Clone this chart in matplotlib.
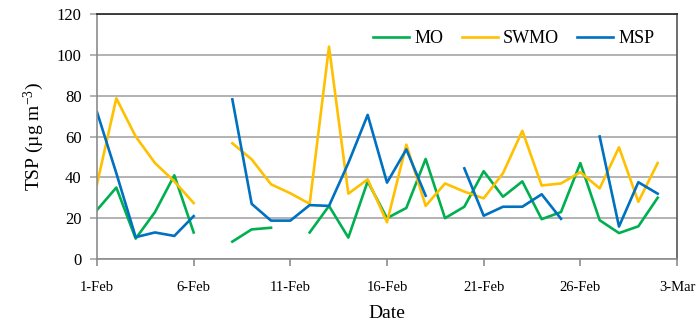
import numpy as np
import pandas as pd
import matplotlib
matplotlib.use("Agg")
import matplotlib.pyplot as plt
import matplotlib.dates as mdates

nan = np.nan

# daily TSP concentrations, 1 Feb to 2 Mar (gaps = no sample)
dates = pd.date_range("2014-02-01", "2014-03-02", freq="D")
mo = [24, 35, 10, 23, 41, 13, nan, 8.5, 14.5, 15.3, nan, 13, 26, 10.5, 38,
      20, 25, 49, 20, 25.6, 43, 30.5, 38, 19.5, 23, 47, 19, 12.7, 16, 30]
swmo = [36.7, 78.7, 60, 47, 38, 27.4, nan, 56.7, 48.8, 36.6, 32.2, 27, 104, 32,
        39, 18, 56, 26, 37, 33, 29.7, 42, 62.8, 36, 37, 42.5, 34.6, 54.7, 28, 47]
msp = [72, 42, 10.7, 13, 11.3, 21, nan, 78.2, 27, 18.8, 18.8, 26.4, 26, 47,
       70.6, 37.4, 53.7, 31, nan, 44.4, 21.2, 25.6, 25.6, 31.7, 19.7, nan,
       60, 15.9, 37.6, 32]

series = [("MO", mo, "#00B050"), ("SWMO", swmo, "#FFC000"), ("MSP", msp, "#0070C0")]

plt.rcParams["font.family"] = ["Liberation Serif", "DejaVu Serif"]
plt.rcParams["mathtext.fontset"] = "custom"
plt.rcParams["mathtext.rm"] = "Liberation Serif"
plt.rcParams["mathtext.it"] = "Liberation Serif:italic"

fig = plt.figure(figsize=(6.96, 3.25), dpi=100)
ax = fig.add_axes([97 / 696, 1 - 259 / 325, (677 - 97) / 696, (259 - 14) / 325])

for name, vals, col in series:
    ax.plot(dates, vals, color=col, lw=1.9, label=name)

ax.set_ylim(0, 120)
ax.set_yticks(np.arange(0, 121, 20))
ax.set_xlim(pd.Timestamp("2014-02-01"), pd.Timestamp("2014-03-03"))
ax.set_xticks(pd.date_range("2014-02-01", periods=7, freq="5D"))
ax.xaxis.set_major_formatter(mdates.DateFormatter("%-d-%b"))

ax.grid(axis="y", color="#A6A6A6", lw=1.2)
ax.set_axisbelow(True)
for side in ("left", "bottom"):
    ax.spines[side].set_color("#8C8C8C")
    ax.spines[side].set_linewidth(1.2)
ax.spines["top"].set_color("#222222")
ax.spines["top"].set_linewidth(1.2)
ax.spines["right"].set_color("#555555")
ax.spines["right"].set_linewidth(1.2)
ax.tick_params(axis="y", length=5, color="#A6A6A6", width=1.2, labelsize=12, pad=6)
ax.tick_params(axis="x", length=5, color="#8C8C8C", width=1.2, labelsize=10.5, pad=11)

ax.set_ylabel("TSP (µg m$^{\\mathrm{-3}}$)", fontsize=14, labelpad=8)
ax.set_xlabel("Date", fontsize=14, labelpad=8)

ax.legend(loc="upper right", ncol=3, frameon=False, fontsize=13,
          handlelength=2.0, columnspacing=1.0, handletextpad=0.3,
          bbox_to_anchor=(0.99, 1.0))

fig.savefig("out.png", dpi=100)
